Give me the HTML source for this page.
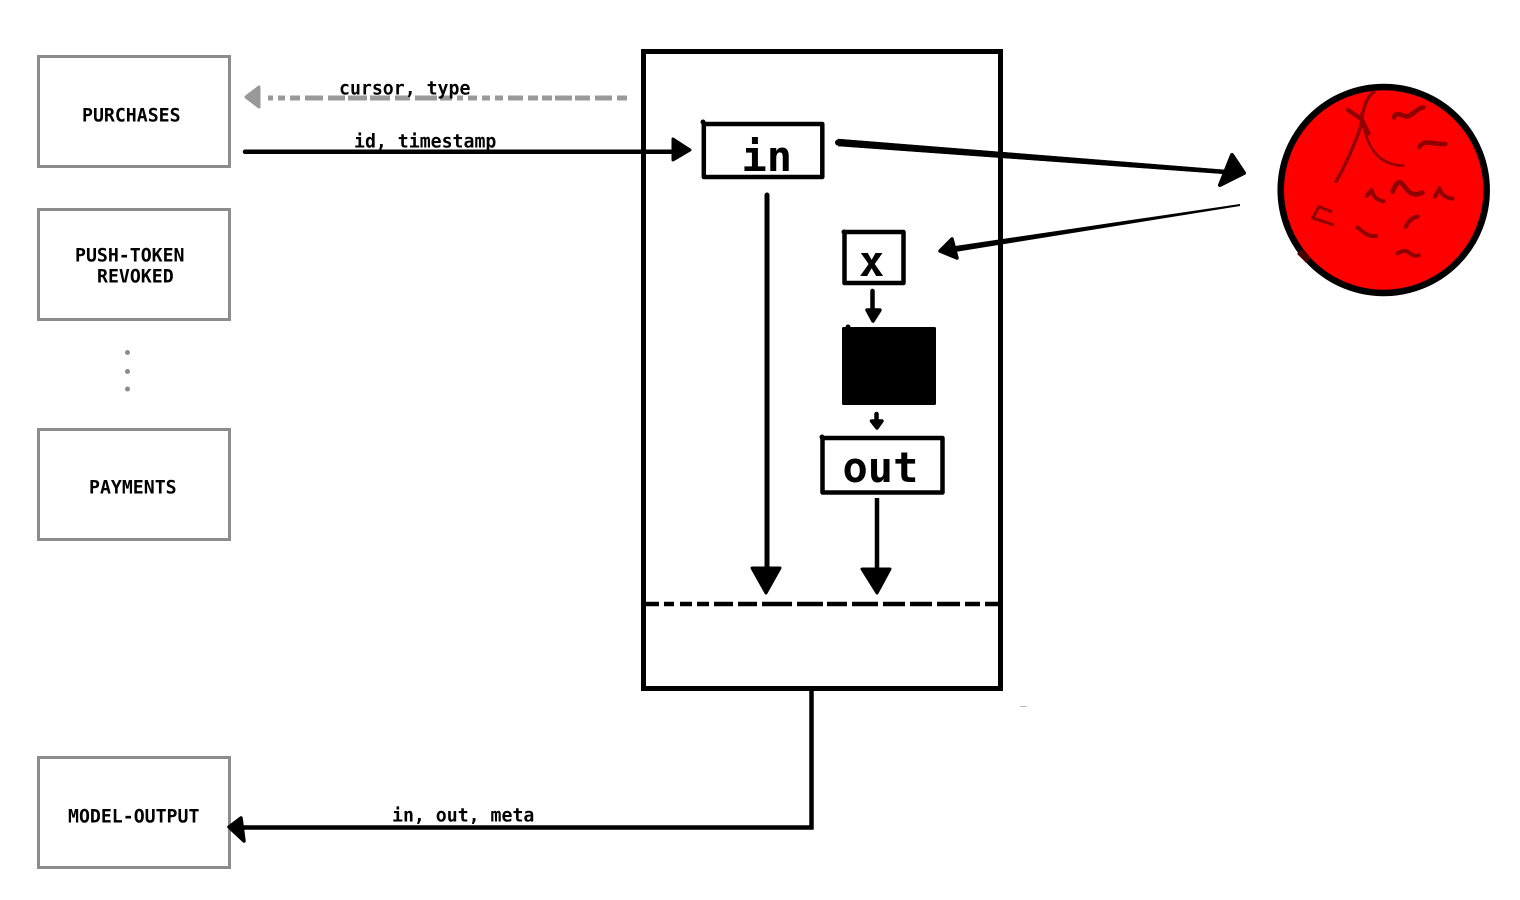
<!DOCTYPE html>
<html>
<head>
<meta charset="utf-8">
<style>
html,body{margin:0;padding:0;background:#fff}
svg{display:block;filter:blur(0.35px)}
text{font-family:"DejaVu Sans Mono","Liberation Mono",monospace;font-weight:bold;fill:#000}
</style>
</head>
<body>
<svg width="1520" height="900" viewBox="0 0 1520 900" xmlns="http://www.w3.org/2000/svg">
<rect width="1520" height="900" fill="#fff"/>

<!-- Left boxes -->
<g fill="#fff" stroke="#8c8c8c" stroke-width="3">
<rect x="38.5" y="56.5" width="191" height="110"/>
<rect x="38.5" y="209.5" width="191" height="110"/>
<rect x="38.5" y="429.5" width="191" height="110"/>
<rect x="38.5" y="757.5" width="191" height="110"/>
</g>
<g font-size="18.2">
<text x="82" y="121.500">PURCHASES</text>
<text x="75" y="261.500">PUSH-TOKEN</text>
<text x="97" y="282.500">REVOKED</text>
<text x="89" y="493.500">PAYMENTS</text>
<text x="68" y="822.500">MODEL-OUTPUT</text>
</g>
<g fill="#8c8c8c">
<circle cx="127.500" cy="352.500" r="2.500"/>
<circle cx="127.500" cy="371.500" r="2.500"/>
<circle cx="127.500" cy="389" r="2.500"/>
</g>

<!-- Main container -->
<rect x="643.500" y="51.500" width="357" height="637" fill="none" stroke="#000" stroke-width="5"/>
<path d="M646,604H659M664,604H674M680,604H692M697,604H709M714,604H733M738,604H757M762,604H792M797,604H823M827,604H847M852,604H878M883,604H905M910,604H932M937,604H960M965,604H980M985,604H998" fill="none" stroke="#000" stroke-width="4.500"/>

<!-- Grey dashed arrow -->
<path d="M268,98H273M278,98H285M290,98H300M305,98H323M328,98H345M348,98H367M370,98H390M395,98H410M415,98H437M440,98H452M457,98H463M468,98H477M482,98H490M495,98H503M508,98H523M528,98H538M542,98H552M555,98H572M575,98H590M595,98H612M617,98H627" fill="none" stroke="#999" stroke-width="5"/>
<polygon points="246,97 259,87 259,107" fill="#999" stroke="#999" stroke-width="3" stroke-linejoin="round"/>

<!-- id, timestamp arrow -->
<line x1="245" y1="151.800" x2="676" y2="151.800" stroke="#000" stroke-width="4.500" stroke-linecap="round"/>
<polygon points="690,150 673,139 673,160" fill="#000" stroke="#000" stroke-width="3" stroke-linejoin="round"/>

<g font-size="18.2">
<text x="339" y="94.500">cursor, type</text>
<text x="354" y="147.500">id, timestamp</text>
<text x="392" y="821.500">in, out, meta</text>
</g>

<!-- in box -->
<rect x="703.800" y="124" width="118.500" height="53" fill="#fff" stroke="#000" stroke-width="4.500" stroke-linejoin="round"/>
<circle cx="703" cy="122" r="2.500" fill="#000"/>
<text x="741.500" y="171" font-size="42">in</text>

<!-- x box -->
<rect x="844.500" y="232" width="59" height="51" fill="#fff" stroke="#000" stroke-width="4.500" stroke-linejoin="round"/>
<circle cx="844" cy="232" r="2.500" fill="#000"/>
<text x="859" y="276" font-size="42">x</text>

<!-- black box -->
<rect x="842" y="327" width="94" height="78" rx="1.500" fill="#000"/>
<circle cx="848" cy="327" r="2.500" fill="#000"/>

<!-- out box -->
<rect x="822.500" y="438" width="120" height="54.500" fill="#fff" stroke="#000" stroke-width="4.500" stroke-linejoin="round"/>
<circle cx="822" cy="437" r="2.500" fill="#000"/>
<text x="842.500" y="482" font-size="42">out</text>

<!-- Internal arrows -->
<line x1="767" y1="195" x2="767" y2="572" stroke="#000" stroke-width="5" stroke-linecap="round"/>
<polygon points="766,593 752,568 780,568" fill="#000" stroke="#000" stroke-width="3" stroke-linejoin="round"/>
<line x1="877" y1="498" x2="877" y2="572" stroke="#000" stroke-width="4.500"/>
<polygon points="877,593 862,569 890,569" fill="#000" stroke="#000" stroke-width="3" stroke-linejoin="round"/>
<line x1="872.500" y1="291" x2="872.500" y2="312" stroke="#000" stroke-width="4.500" stroke-linecap="round"/>
<polygon points="873,321 867,310 880,310" fill="#000" stroke="#000" stroke-width="3.500" stroke-linejoin="round"/>
<line x1="876.500" y1="414" x2="876.500" y2="422" stroke="#000" stroke-width="4.500" stroke-linecap="round"/>
<polygon points="877,428 871.500,421 882,421" fill="#000" stroke="#000" stroke-width="3.500" stroke-linejoin="round"/>

<!-- Bottom connector -->
<polyline points="811.500,690 811.500,827.500 240,827.500" fill="none" stroke="#000" stroke-width="4.500"/>
<polygon points="229,827 241,818 244,841" fill="#000" stroke="#000" stroke-width="3.500" stroke-linejoin="round"/>

<!-- Tapered arrows to and from the circle -->
<polygon points="838,139 1226,170 1226,174 838,146" fill="#000" stroke="#000" stroke-width="0.500" stroke-linejoin="round"/>
<circle cx="838" cy="142.500" r="3" fill="#000"/>
<polygon points="1244,173 1232,155 1220,185" fill="#000" stroke="#000" stroke-width="4" stroke-linejoin="round"/>
<polygon points="1240,204 1240,206 955,252 955,246" fill="#000"/>
<polygon points="940,251 952,239 957,258" fill="#000" stroke="#000" stroke-width="3.500" stroke-linejoin="round"/>

<!-- Red circle -->
<circle cx="1383.700" cy="190" r="103" fill="#f00" stroke="#000" stroke-width="6.500"/>
<g transform="translate(1260,70) scale(0.3333)" fill="none" stroke="#8f0000" stroke-linecap="round" stroke-linejoin="round">
<path d="M342,66 C318,80 308,120 302,170 C285,220 255,290 228,334" stroke-width="10"/>
<path d="M305,130 C312,190 330,285 430,287" stroke-width="8"/>
<path d="M264,120 L305,148 L325,190" stroke-width="13"/>
<path d="M402,142 C405,125 425,135 440,140 C460,135 470,115 490,112" stroke-width="14"/>
<path d="M478,231 C495,205 520,225 556,222" stroke-width="14"/>
<path d="M398,365 C405,345 415,330 425,340 C440,355 450,385 487,368" stroke-width="14"/>
<path d="M320,377 L335,360 C340,380 350,390 370,394" stroke-width="12"/>
<path d="M525,380 L538,355 C545,375 560,385 578,386" stroke-width="12"/>
<path d="M213,425 L177,410 L158,444 L218,464" stroke-width="9"/>
<path d="M292,472 C310,485 320,500 348,498" stroke-width="12"/>
<path d="M437,470 C445,455 455,442 473,440" stroke-width="12"/>
<path d="M413,550 C430,540 440,540 450,550 C460,557 465,558 476,556" stroke-width="12"/>
<path d="M118,545 L145,572" stroke="#4a0000" stroke-width="19" stroke-linecap="butt"/>
</g>

<line x1="1020" y1="706.500" x2="1027" y2="706.500" stroke="#bbb" stroke-width="1"/>
</svg>
</body>
</html>
